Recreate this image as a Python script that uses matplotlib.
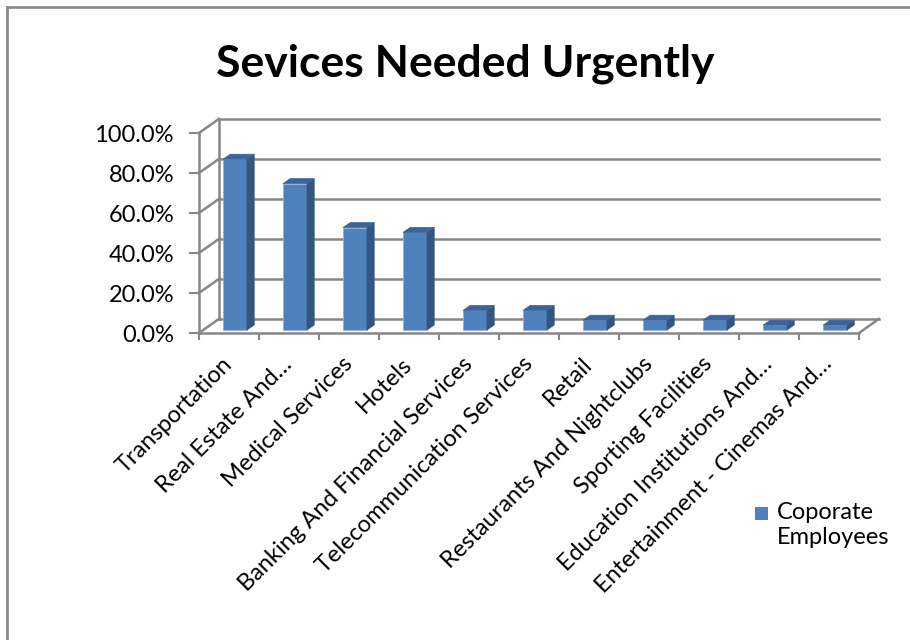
import numpy as np
import matplotlib.pyplot as plt
from matplotlib.patches import Polygon, Rectangle

plt.rcParams['font.family'] = ['Lato', 'DejaVu Sans']

# data (share of corporate employees)
categories = ['Transportation', 'Real Estate And\u2026', 'Medical Services', 'Hotels',
              'Banking And Financial Services', 'Telecommunication Services', 'Retail',
              'Restaurants And Nightclubs', 'Sporting Facilities',
              'Education Institutions And\u2026', 'Entertainment - Cinemas And\u2026']
values = [85.4, 73.2, 51.2, 48.8, 9.8, 9.8, 4.9, 4.9, 4.9, 2.4, 2.4]
yticks = [0, 20, 40, 60, 80, 100]
ytick_labels = ['0.0%', '20.0%', '40.0%', '60.0%', '80.0%', '100.0%']
series_name = ['Coporate', 'Employees']
title = 'Sevices Needed Urgently'

W, H = 910, 640
front = '#4F81BD'
side = '#34557F'
top = '#3D6496'
grid_c = '#878787'

# fake 3d depth (in data units)
DX, DY = 0.33, 7.0
bdx, bdy = 0.12, 2.5
base = 1.5

n = len(categories)
x = np.arange(n)
xmax = n - 0.5 + DX

fig = plt.figure(figsize=(W / 100, H / 100), dpi=100)
ax = fig.add_axes([199 / W, 1 - 333 / H, (xmax + 0.5) * 60 / W, 214 / H])
ax.set_xlim(-0.5, xmax)
ax.set_ylim(0, 107)

# walls and gridlines
for t in yticks:
    ax.plot([-0.5 + DX, xmax], [t + DY, t + DY], color=grid_c, lw=1.8, zorder=1, clip_on=False)
    ax.plot([-0.5, -0.5 + DX], [t, t + DY], color=grid_c, lw=1.8, zorder=1, clip_on=False)
ax.plot([-0.5 + DX, -0.5 + DX], [DY, 100 + DY], color=grid_c, lw=1.8, zorder=1, clip_on=False)
ax.plot([n - 0.5, xmax], [0, DY], color=grid_c, lw=1.8, zorder=1, clip_on=False)

# bars: front faces + side and top faces
xs = x + 0.1
w = 0.4
ax.bar(xs, values, width=w, bottom=base, color=front, edgecolor='#8DB0DA', lw=0.6, zorder=3)
for xc, v in zip(xs, values):
    x0, x1 = xc - w / 2, xc + w / 2
    y1 = base + v
    ax.add_patch(Polygon([(x1, base), (x1 + bdx, base + bdy), (x1 + bdx, y1 + bdy), (x1, y1)],
                         closed=True, facecolor=side, edgecolor=side, lw=0.5, zorder=3))
    ax.add_patch(Polygon([(x0, y1), (x0 + bdx, y1 + bdy), (x1 + bdx, y1 + bdy), (x1, y1)],
                         closed=True, facecolor=top, edgecolor=top, lw=0.5, zorder=3))

# axes
for s in ['top', 'right']:
    ax.spines[s].set_visible(False)
for s in ['left', 'bottom']:
    ax.spines[s].set_color(grid_c)
    ax.spines[s].set_linewidth(1.8)
ax.spines['left'].set_bounds(0, 100)
ax.spines['bottom'].set_bounds(-0.5, n - 0.5)

ax.set_yticks(yticks, labels=ytick_labels)
ax.tick_params(axis='y', length=7, width=1.5, color=grid_c, pad=11, labelsize=17)
ax.set_xticks(x, labels=categories)
ax.set_xticks(np.arange(n + 1) - 0.5, minor=True)
ax.tick_params(axis='x', which='major', length=0, pad=20, labelsize=17)
ax.tick_params(axis='x', which='minor', length=5, width=1.5, color=grid_c)
for lab in ax.get_xticklabels():
    lab.set_rotation(45)
    lab.set_ha('right')
    lab.set_va('center')
    lab.set_rotation_mode('anchor')

# title
fig.text(465 / W, 1 - 76 / H, title, ha='center', va='baseline', fontsize=32, fontweight='bold')

# legend
fig.patches.append(Rectangle((755 / W, 1 - 520 / H), 13 / W, 13 / H, transform=fig.transFigure,
                             facecolor=front, edgecolor='none'))
fig.text(777 / W, 1 - 519 / H, series_name[0], ha='left', va='baseline', fontsize=17)
fig.text(777 / W, 1 - 544 / H, series_name[1], ha='left', va='baseline', fontsize=17)

# chart frame
fig.add_artist(plt.Line2D([7 / W, 7 / W], [0, 1 - 7 / H], color='#8C8C8C', lw=2, transform=fig.transFigure))
fig.add_artist(plt.Line2D([7 / W, 1], [1 - 7 / H, 1 - 7 / H], color='#8C8C8C', lw=2, transform=fig.transFigure))

fig.savefig('out.png', dpi=100, facecolor='white')
